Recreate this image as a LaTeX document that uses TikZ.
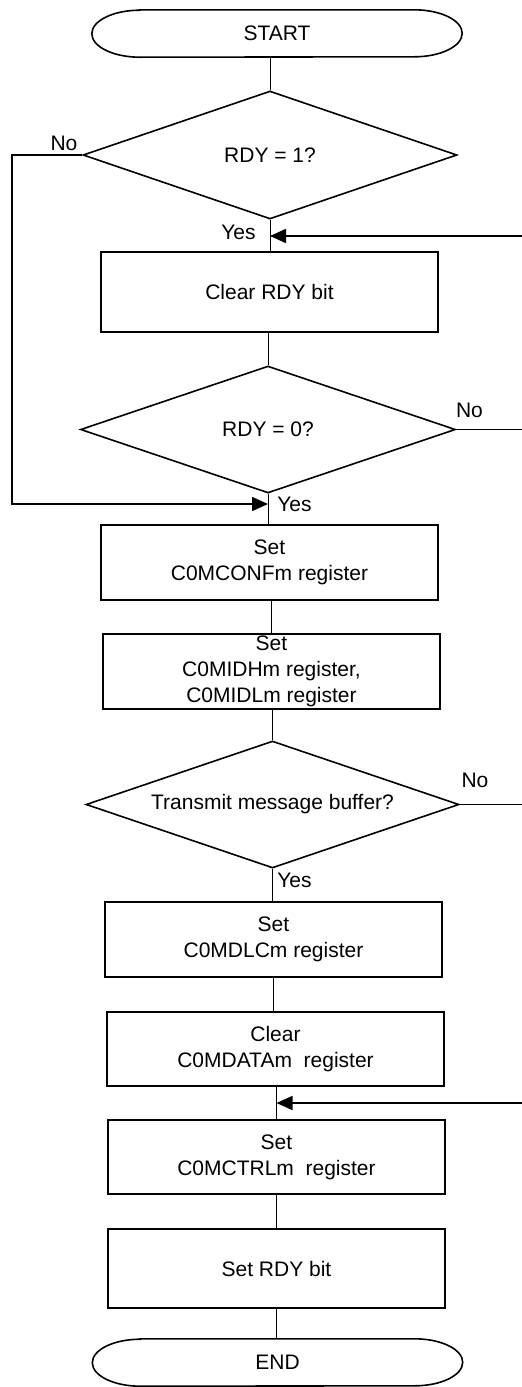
\documentclass[tikz,border=0pt]{standalone}
\usepackage{fontspec}
\setmainfont{Liberation Sans}
\usetikzlibrary{shapes.geometric,arrows.meta}
\newcommand\termshape[1]{%
  \draw[line width=1.6pt] ([xshift=48pt]#1.north west) -- ([xshift=-48pt]#1.north east)
    arc[start angle=90,end angle=-90,x radius=48pt,y radius=23.5pt]
    -- ([xshift=48pt]#1.south west)
    arc[start angle=270,end angle=90,x radius=48pt,y radius=23.5pt] -- cycle;}
\begin{document}
\begin{tikzpicture}[x=1pt,y=1pt,
  every node/.style={font=\fontsize{21}{26}\selectfont, align=center},
  procbox/.style={draw, line width=1.6pt, minimum width=337pt, inner sep=0pt},
  decision/.style={draw, diamond, line width=1.6pt, minimum width=374pt, minimum height=128pt, aspect=2.9, inner sep=0pt},
  termbox/.style={minimum width=370pt, minimum height=47pt, inner sep=0pt},
  link/.style={line width=0.9pt},
  thicklink/.style={line width=1.6pt},
  flowarrow/.style={line width=1.6pt, -{Triangle[length=16pt,width=14pt]}},
  lbl/.style={inner sep=0pt}]
\useasboundingbox (0,0) rectangle (522,-1387);

\node[termbox] (start) at (277,-33.5) {START};
\termshape{start}
\node[decision] (d1) at (270,-155) {RDY = 1?};
\node[procbox, minimum height=80pt] (b1) at (269.5,-292) {Clear RDY bit};
\node[decision, minimum width=375pt, minimum height=127pt] (d2) at (268,-429.5) {RDY = 0?};
\node[procbox, minimum height=75pt] (b2) at (269.5,-562.5) {Set\\C0MCONFm register};
\node[procbox, minimum height=75pt] (b3) at (271.5,-671.5) {Set\\C0MIDHm register,\\C0MIDLm register};
\node[decision, minimum width=373pt, minimum height=127pt] (d3) at (272.5,-804.5) {Transmit message buffer?};
\node[procbox, minimum height=75pt] (b4) at (273.5,-939.5) {Set\\C0MDLCm register};
\node[procbox, minimum height=74pt] (b5) at (275.5,-1049) {Clear\\C0MDATAm\ \ register};
\node[procbox, minimum height=74pt] (b6) at (276.5,-1157) {Set\\C0MCTRLm\ \ register};
\node[procbox, minimum height=79pt] (b7) at (276.5,-1268.5) {Set RDY bit};
\node[termbox] (end) at (277.5,-1362.5) {END};
\termshape{end}

% vertical connectors
\draw[link] (d1.north) -- (d1.north |- start.south);
\draw[link] (d1.south) -- (d1.south |- b1.north);
\draw[link] (d2.north) -- (d2.north |- b1.south);
\draw[link] (d2.south) -- (d2.south |- b2.north);
\draw[link] (b3.north) -- (b3.north |- b2.south);
\draw[link] (d3.north) -- (d3.north |- b3.south);
\draw[link] (d3.south) -- (d3.south |- b4.north);
\draw[link] (b4.south) -- (b4.south |- b5.north);
\draw[link] (b6.north) -- (b6.north |- b5.south);
\draw[link] (b6.south) -- (b6.south |- b7.north);
\draw[link] (b7.south) -- (b7.south |- end.north);

% side connectors
\coordinate (lx) at (12,-504);
\coordinate (redge) at (524,0);
\coordinate (r1) at (524,-236);
\coordinate (r3) at (524,-1103);
\draw[flowarrow] (d1.west) -| (lx) -- (d2.south |- lx);
\draw[flowarrow] (r1) -- (d1.south |- r1);
\draw[link] (d2.east) -- (d2.east -| redge);
\draw[thicklink] (d3.east) -- (d3.east -| redge);
\draw[flowarrow] (r3) -- (b6.north |- r3);

% labels
\node[lbl] (no1) at (64,-143) {No};
\node[lbl] (yes1) at (238.5,-232) {Yes};
\node[lbl] (no2) at (469.5,-410) {No};
\node[lbl] (yes2) at (294.5,-504) {Yes};
\node[lbl] (no3) at (475,-780) {No};
\node[lbl] (yes3) at (294.5,-880) {Yes};
\end{tikzpicture}
\end{document}
